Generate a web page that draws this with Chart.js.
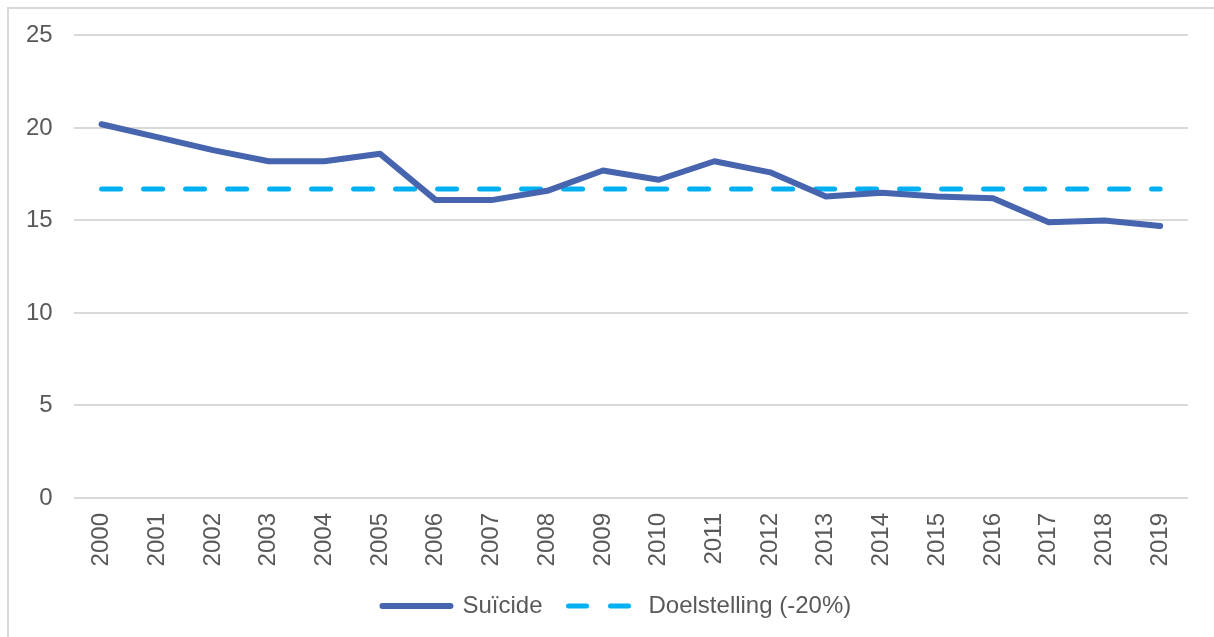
<!DOCTYPE html>
<html>
<head>
<meta charset="utf-8">
<script src="https://cdn.jsdelivr.net/npm/chart.js@4"></script>
<style>
  html, body { margin: 0; padding: 0; background: #fff; }
  #frame {
    position: absolute;
    left: 7px;
    top: 7px;
    width: 1220px;
    height: 640px;
    border-top: 2px solid #d9d9d9;
    border-left: 2px solid #d9d9d9;
  }
  #wrap { position: absolute; left: 0; top: 0; width: 1214px; height: 637px; }
</style>
</head>
<body>
<div id="frame"></div>
<div id="wrap"><canvas id="suicideChart"></canvas></div>
<script>
const years = [
  "2000", "2001", "2002", "2003", "2004", "2005", "2006", "2007", "2008", "2009",
  "2010", "2011", "2012", "2013", "2014", "2015", "2016", "2017", "2018", "2019",
];
const suicide = [
  20.2, 19.5, 18.8, 18.2, 18.2, 18.6, 16.1, 16.1, 16.6, 17.7,
  17.2, 18.2, 17.6, 16.3, 16.5, 16.3, 16.2, 14.9, 15.0, 14.7,
];
const target = years.map(() => 16.7);
const yTicks = [0, 5, 10, 15, 20, 25];

const textColor = "#595959";
const gridColor = "#d9d9d9";
const fontFamily = "'Liberation Sans', Arial, sans-serif";

Chart.defaults.font.family = fontFamily;
Chart.defaults.font.size = 24;
Chart.defaults.color = textColor;

// nudge the legend a bit to the left of the plot centre
const legendShift = {
  id: "legendShift",
  afterLayout(chart) {
    chart.legend.left -= 14;
    chart.legend.right -= 14;
  },
};

function renderChart() {
  const ctx = document.getElementById("suicideChart").getContext("2d");

  new Chart(ctx, {
    type: "line",
    data: {
      labels: years,
      datasets: [
        {
          label: "Suïcide",
          data: suicide,
          borderColor: "#4764ae",
          backgroundColor: "#4764ae",
          borderWidth: 6,
          borderCapStyle: "round",
          borderJoinStyle: "round",
          pointRadius: 0,
          tension: 0,
        },
        {
          label: "Doelstelling (-20%)",
          data: target,
          borderColor: "#00b0f0",
          backgroundColor: "#00b0f0",
          borderWidth: 5,
          borderDash: [19, 23],
          borderCapStyle: "round",
          pointRadius: 0,
          tension: 0,
        },
      ],
    },
    plugins: [legendShift],
    options: {
      responsive: true,
      maintainAspectRatio: false,
      animation: false,
      layout: {
        padding: { left: 5, right: 26, top: 34, bottom: 9 },
      },
      plugins: {
        legend: {
          position: "bottom",
          fullSize: false,
          labels: {
            // zero-height box: strokeRect draws a flat line (out and back)
            boxWidth: 68,
            boxHeight: 0,
            padding: 26,
            color: textColor,
            generateLabels: (chart) => {
              const items = Chart.defaults.plugins.legend.labels.generateLabels(chart);
              // two dashes on the way out, nothing on the way back
              items[1].lineDash = [18, 24, 18, 100];
              return items;
            },
          },
        },
        tooltip: { enabled: false },
      },
      scales: {
        x: {
          offset: true,
          grid: { display: false, drawTicks: false },
          border: { display: false },
          ticks: {
            maxRotation: 90,
            minRotation: 90,
            padding: 15,
            autoSkip: false,
          },
          afterFit: (axis) => {
            axis.height = 70;
          },
        },
        y: {
          min: 0,
          max: 25,
          afterBuildTicks: (axis) => {
            axis.ticks = yTicks.map((v) => ({ value: v }));
          },
          grid: { color: gridColor, lineWidth: 2, drawTicks: false },
          border: { display: false },
          ticks: { padding: 21 },
        },
      },
    },
  });
}

renderChart();
</script>
</body>
</html>
